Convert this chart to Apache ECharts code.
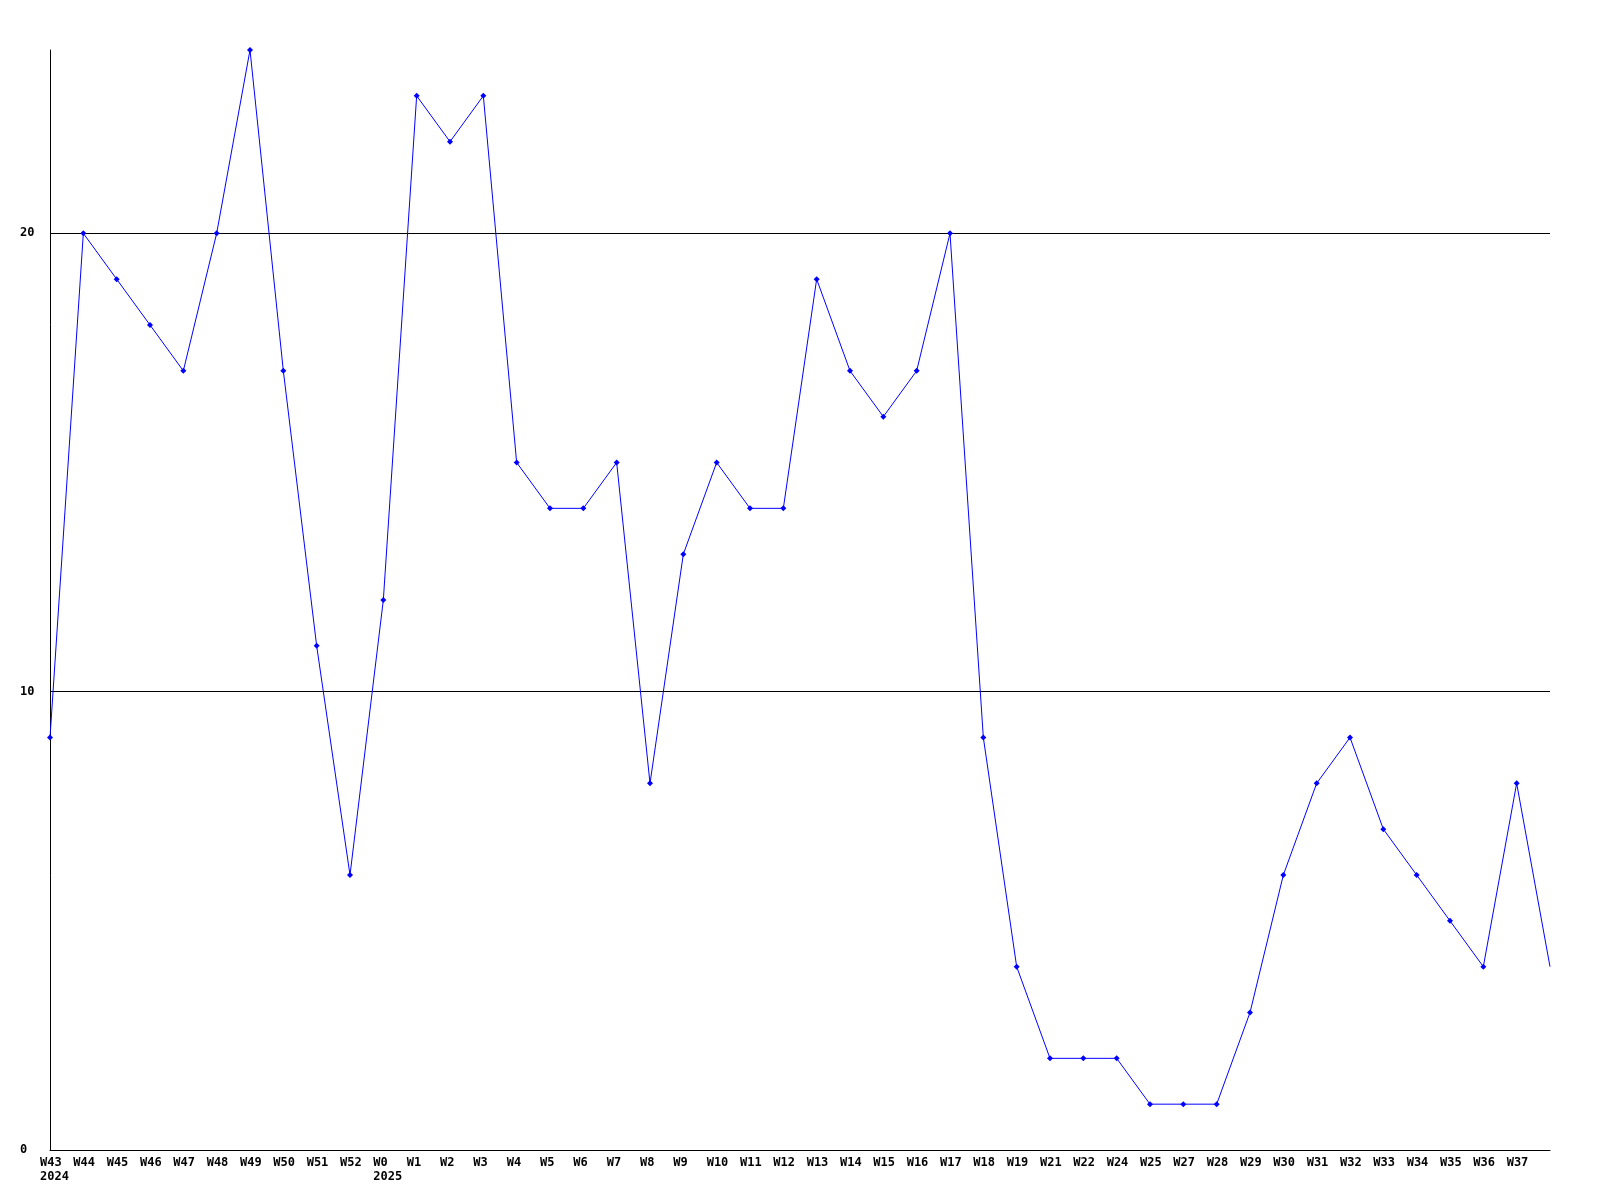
<!DOCTYPE html>
<html>
<head>
<meta charset="utf-8">
<style>
  html, body { margin: 0; padding: 0; background: #fff; }
  #chart { width: 1600px; height: 1200px; }
</style>
<script src="https://cdn.jsdelivr.net/npm/echarts@6/dist/echarts.min.js"></script>
</head>
<body>
<div id="chart"></div>
<script>
// week labels, last point has no label
const weeks = ['W43', 'W44', 'W45', 'W46', 'W47', 'W48', 'W49', 'W50', 'W51', 'W52',
  'W0', 'W1', 'W2', 'W3', 'W4', 'W5', 'W6', 'W7', 'W8', 'W9', 'W10', 'W11', 'W12',
  'W13', 'W14', 'W15', 'W16', 'W17', 'W18', 'W19', 'W21', 'W22', 'W24', 'W25', 'W27',
  'W28', 'W29', 'W30', 'W31', 'W32', 'W33', 'W34', 'W35', 'W36', 'W37', '']
// year shown under the first week of each year
const years = { 'W43': '2024', 'W0': '2025' }
const counts = [9, 20, 19, 18, 17, 20, 24, 17, 11, 6,
  12, 23, 22, 23, 15, 14, 14, 15, 8, 13, 15, 14, 14,
  19, 17, 16, 17, 20, 9, 4, 2, 2, 2, 1, 1,
  1, 3, 6, 8, 9, 7, 6, 5, 4, 8, 4]
const yTicks = { min: 0, max: 24, interval: 10 }

const font = '"DejaVu Sans Mono", monospace'
const chart = echarts.init(document.getElementById('chart'))

const seriesData = counts.map((v, i) => {
  // the last point is drawn without a marker
  if (i === counts.length - 1) return { value: v, symbol: 'none' }
  return v
})

chart.setOption({
  animation: false,
  backgroundColor: '#fff',
  grid: { left: 50, right: 50, top: 50, bottom: 50 },
  xAxis: {
    type: 'category',
    data: weeks,
    boundaryGap: false,
    axisTick: { show: false },
    axisLine: { lineStyle: { color: '#000', width: 1 } },
    splitLine: { show: false },
    axisLabel: {
      interval: 0,
      margin: 6,
      color: '#000',
      fontFamily: font,
      fontWeight: 'bold',
      fontSize: 12,
      lineHeight: 14,
      formatter: function(val) {
        if (!val) return ''
        let s = '{t|' + val + '}'
        if (years[val]) s += '\n{t|' + years[val] + '}'
        return s
      },
      rich: {
        t: {
          width: 20,
          align: 'left',
          color: '#000',
          fontFamily: font,
          fontWeight: 'bold',
          fontSize: 12,
          lineHeight: 14
        }
      }
    }
  },
  yAxis: {
    type: 'value',
    min: yTicks.min,
    max: yTicks.max,
    interval: yTicks.interval,
    axisTick: { show: false },
    axisLine: { show: true, lineStyle: { color: '#000', width: 1 } },
    splitLine: {
      show: true,
      showMaxLine: false,
      lineStyle: { color: '#000', width: 1 }
    },
    axisLabel: {
      showMaxLabel: false,
      align: 'left',
      margin: 30,
      color: '#000',
      fontFamily: font,
      fontWeight: 'bold',
      fontSize: 12
    }
  },
  series: [{
    type: 'line',
    data: seriesData,
    symbol: 'diamond',
    symbolSize: 6,
    showAllSymbol: true,
    lineStyle: { color: '#0000ff', width: 1 },
    itemStyle: { color: '#0000ff' }
  }]
})
</script>
</body>
</html>
